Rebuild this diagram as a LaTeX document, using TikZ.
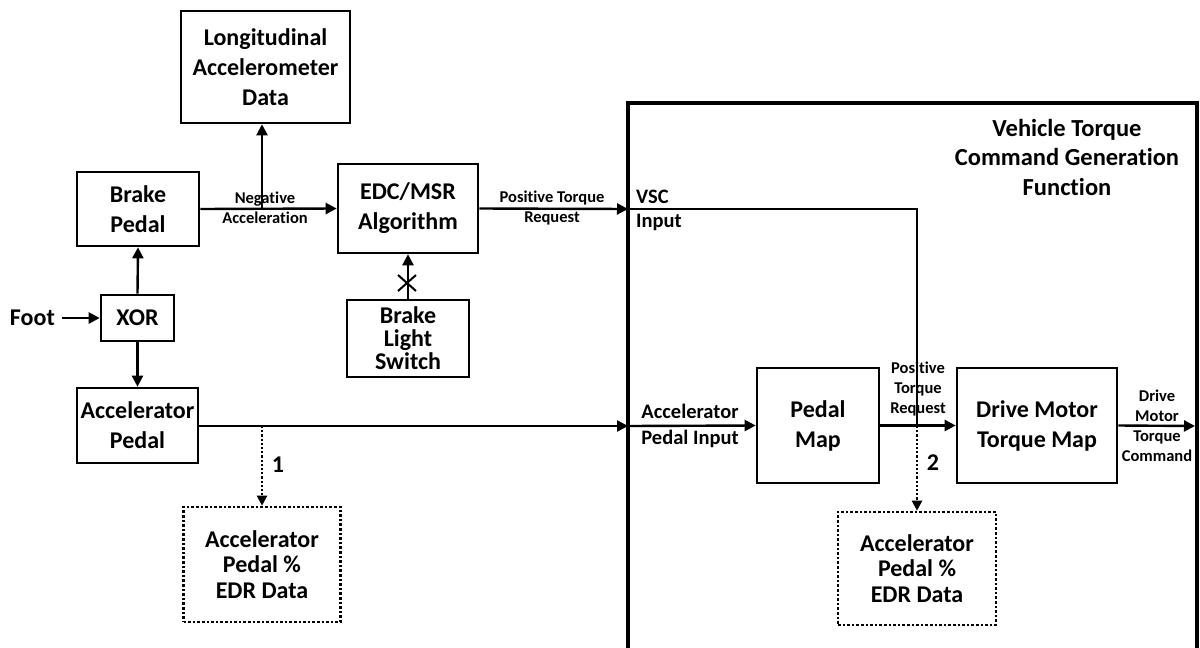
\documentclass[tikz,border=0pt]{standalone}
\usepackage{fontspec}
\setmainfont{Carlito}[Ligatures=NoCommon]
\usetikzlibrary{arrows.meta}
\newcommand\bigf{\fontsize{24}{30}\selectfont\bfseries}
\newcommand\midf{\fontsize{20.5}{26}\selectfont\bfseries}
\newcommand\smallf{\fontsize{16.5}{20}\selectfont\bfseries}
\tikzset{
  blk/.style={draw, line width=2.6pt, align=center, font=\bigf, inner sep=0pt},
  dblk/.style={blk, line width=2.6pt, dotted},
  lbl/.style={align=center, inner sep=0pt},
  ar/.style={line width=2.4pt, -{Triangle[length=11pt,width=11pt]}},
  ln/.style={line width=2.4pt},
  dar/.style={line width=2.2pt, dotted, -{Triangle[length=10pt,width=10pt]}}
}
\begin{document}
\begin{tikzpicture}[x=1pt,y=-1pt]
\useasboundingbox (0,0) rectangle (1200,648);
% boxes
\node[blk, minimum width=169pt, minimum height=112pt] (long) at (265.5,67) {Longitudinal\\Accelerometer\\Data};
\node[blk, minimum width=122pt, minimum height=74pt] (brake) at (138,209) {Brake\\Pedal};
\node[blk, minimum width=73pt, minimum height=46pt] (xor) at (137.5,318) {XOR};
\node[blk, minimum width=121pt, minimum height=75pt] (accel) at (137.5,425.5) {Accelerator\\Pedal};
\node[blk, minimum width=140pt, minimum height=89pt] (edc) at (408,208.5) {EDC/MSR\\Algorithm};
\node[blk, minimum width=122pt, minimum height=77pt, font=\fontsize{24}{23}\selectfont\bfseries] (bls) at (408,338.5) {Brake\\Light\\Switch};
\node[blk, minimum width=122pt, minimum height=115pt] (pmap) at (818,425.5) {Pedal\\Map};
\node[blk, minimum width=160pt, minimum height=115pt] (dmtm) at (1037,425.5) {Drive Motor\\Torque Map};
\node[dblk, minimum width=157pt, minimum height=115pt, font=\fontsize{24}{25.5}\selectfont\bfseries] (edra) at (262,564.5) {Accelerator\\Pedal \%\\EDR Data};
\node[dblk, minimum width=158pt, minimum height=113pt, font=\fontsize{24}{25.5}\selectfont\bfseries] (edrb) at (917,568.5) {Accelerator\\Pedal \%\\EDR Data};
% big function box
\coordinate (bbl) at (628,660);
\coordinate (btl) at (628,103);
\coordinate (btr) at (1197,103);
\coordinate (bbr) at (1197,660);
\draw[line width=3.4pt] (bbl) -- (btl) -- (btr) -- (bbr);
\node[lbl, font=\fontsize{24.5}{29.5}\selectfont\bfseries] (title) at (1067,157) {Vehicle Torque\\Command Generation\\Function};
% coordinates
\coordinate (foot) at (62,318);
\coordinate (j1) at (262,209);
\coordinate (vscin) at (628,209);
\coordinate (vsccorner) at (917,209);
\coordinate (j2) at (917,426);
\coordinate (j3) at (262,426);
\coordinate (apin) at (628,426);
\coordinate (dmout) at (1195,426);
\coordinate (xm) at (407,283);
% left connectors
\node[lbl, font=\bigf, anchor=east] (footl) at (55,318) {Foot};
\draw[ar] (foot) -- (xor.west);
\draw[ar] (xor.north) -- (brake.south);
\draw[ar] (xor.south) -- (accel.north);
\draw[ar] (brake.east) -- (edc.west);
\draw[ar] (j1) -- (j1 |- long.south);
\node[lbl, font=\smallf] (nacc) at (265,208) {Negative\\Acceleration};
\draw[ar] (bls.north) -- (edc.south);
\draw[line width=2pt] ([shift={(-9,-8)}]xm) -- ([shift={(9,8)}]xm);
\draw[line width=2pt] ([shift={(-9,8)}]xm) -- ([shift={(9,-8)}]xm);
\draw[ar] (edc.east) -- (vscin);
\node[lbl, font=\smallf] (ptr) at (552,208) {Positive Torque\\Request};
\draw[ar] (accel.east |- apin) -- (apin);
\draw[dar] (j3) -- (edra.north);
\node[lbl, font=\bigf] (n1) at (278,465) {1};
% inside function box
\node[lbl, font=\midf, anchor=west] (vsc) at (636,197) {VSC};
\node[lbl, font=\midf, anchor=west] (inp) at (636,222) {Input};
\draw[ln] (vscin) -- (vsccorner) -- (j2);
\draw[ar] (apin) -- (pmap.west);
\node[lbl, font=\midf] (api) at (690,426) {Accelerator\\Pedal Input};
\draw[ar] (pmap.east) -- (dmtm.west);
\node[lbl, font=\smallf] (ptr2) at (918,389) {Positive\\Torque\\Request};
\draw[dar] (j2) -- (edrb.north);
\node[lbl, font=\bigf] (n2) at (933,463) {2};
\draw[ar] (dmtm.east) -- (dmout);
\node[lbl, font=\smallf] (dmtc) at (1157,426) {Drive\\Motor\\Torque\\Command};
\end{tikzpicture}
\end{document}
